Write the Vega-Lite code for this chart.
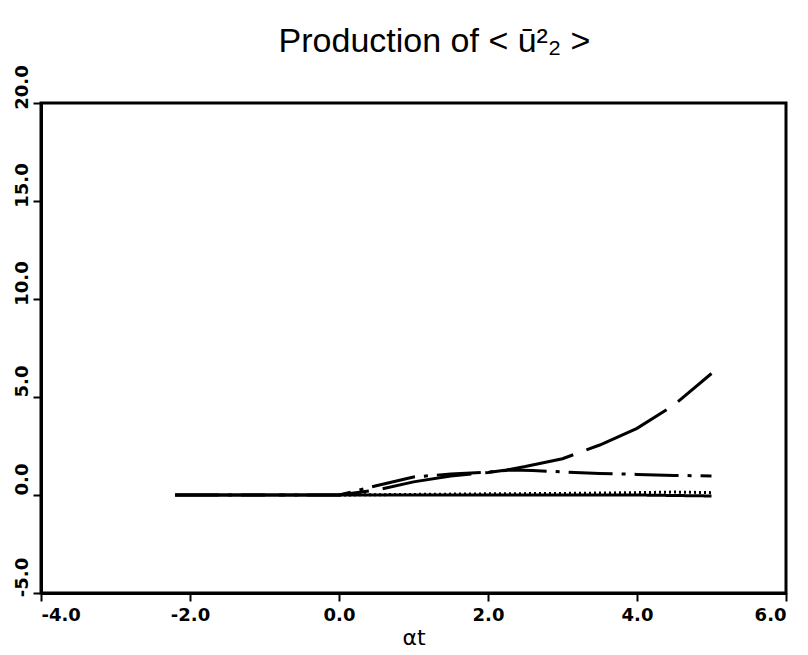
{
  "$schema": "https://vega.github.io/schema/vega-lite/v6.json",
  "autosize": {"type": "none"},
  "width": 745,
  "height": 490,
  "padding": {"left": 41, "top": 103, "right": 22, "bottom": 62},
  "background": "white",
  "title": {
    "text": "Production of < ū²₂ >",
    "font": "Liberation Sans Narrow, Liberation Sans",
    "fontSize": 34,
    "fontWeight": "normal",
    "color": "black",
    "anchor": "middle",
    "frame": "group",
    "offset": 6,
    "dx": 21
  },
  "config": {
    "view": {"stroke": "black", "strokeWidth": 3},
    "axis": {
      "domainColor": "black",
      "domainWidth": 3,
      "tickColor": "black",
      "tickWidth": 2,
      "tickSize": 8,
      "grid": false,
      "labelFont": "DejaVu Sans",
      "labelFontWeight": "bold",
      "labelFontSize": 18,
      "labelColor": "black",
      "titleColor": "black"
    }
  },
  "data": {
    "values": [
      {"series": "solid", "x": -2.2, "y": 0},
      {"series": "solid", "x": 0, "y": 0},
      {"series": "solid", "x": 1, "y": 0},
      {"series": "solid", "x": 2, "y": 0},
      {"series": "solid", "x": 3, "y": 0},
      {"series": "solid", "x": 4, "y": 0},
      {"series": "solid", "x": 5, "y": -0.05},
      {"series": "dotted", "x": 0, "y": 0},
      {"series": "dotted", "x": 1, "y": 0.03},
      {"series": "dotted", "x": 2, "y": 0.06},
      {"series": "dotted", "x": 3, "y": 0.08},
      {"series": "dotted", "x": 4, "y": 0.12},
      {"series": "dotted", "x": 4.5, "y": 0.15},
      {"series": "dotted", "x": 5, "y": 0.12},
      {"series": "dashdot", "x": -2.2, "y": 0},
      {"series": "dashdot", "x": 0, "y": 0},
      {"series": "dashdot", "x": 0.5, "y": 0.47},
      {"series": "dashdot", "x": 1, "y": 0.92},
      {"series": "dashdot", "x": 1.5, "y": 1.07},
      {"series": "dashdot", "x": 2, "y": 1.17},
      {"series": "dashdot", "x": 2.3, "y": 1.28},
      {"series": "dashdot", "x": 2.6, "y": 1.25},
      {"series": "dashdot", "x": 3, "y": 1.18},
      {"series": "dashdot", "x": 3.5, "y": 1.1},
      {"series": "dashdot", "x": 4, "y": 1.05},
      {"series": "dashdot", "x": 4.5, "y": 1.0},
      {"series": "dashdot", "x": 5, "y": 0.97},
      {"series": "dashed", "x": -2.2, "y": 0},
      {"series": "dashed", "x": 0, "y": 0},
      {"series": "dashed", "x": 0.5, "y": 0.25},
      {"series": "dashed", "x": 1, "y": 0.67},
      {"series": "dashed", "x": 1.5, "y": 0.97},
      {"series": "dashed", "x": 2, "y": 1.15},
      {"series": "dashed", "x": 2.25, "y": 1.28},
      {"series": "dashed", "x": 2.5, "y": 1.45},
      {"series": "dashed", "x": 3, "y": 1.85},
      {"series": "dashed", "x": 3.5, "y": 2.55},
      {"series": "dashed", "x": 4, "y": 3.4},
      {"series": "dashed", "x": 4.5, "y": 4.6},
      {"series": "dashed", "x": 5, "y": 6.2}
    ]
  },
  "mark": {"type": "line", "color": "black", "strokeWidth": 3, "clip": true},
  "encoding": {
    "x": {
      "field": "x",
      "type": "quantitative",
      "scale": {"domain": [-4, 6], "nice": false, "zero": false},
      "axis": {
        "values": [-4, -2, 0, 2, 4, 6],
        "labelExpr": "replace(format(datum.value, '.1f'), '−', '-')",
        "labelPadding": 5,
        "title": "αt",
        "titleFont": "DejaVu Sans",
        "titleFontSize": 22,
        "titleFontWeight": "normal",
        "titlePadding": 3
      }
    },
    "y": {
      "field": "y",
      "type": "quantitative",
      "scale": {"domain": [-5, 20], "nice": false, "zero": false},
      "axis": {
        "values": [-5, 0, 5, 10, 15, 20],
        "labelExpr": "replace(format(datum.value, '.1f'), '−', '-')",
        "labelAngle": 270,
        "labelAlign": "center",
        "labelBaseline": "bottom",
        "labelOffset": -16,
        "labelPadding": 2,
        "title": null
      }
    },
    "detail": {"field": "series"},
    "strokeDash": {
      "field": "series",
      "type": "nominal",
      "scale": {
        "domain": ["solid", "dotted", "dashdot", "dashed"],
        "range": [[1, 0], [2, 3], [44, 9, 4, 9], [90, 14]]
      },
      "legend": null
    }
  }
}
